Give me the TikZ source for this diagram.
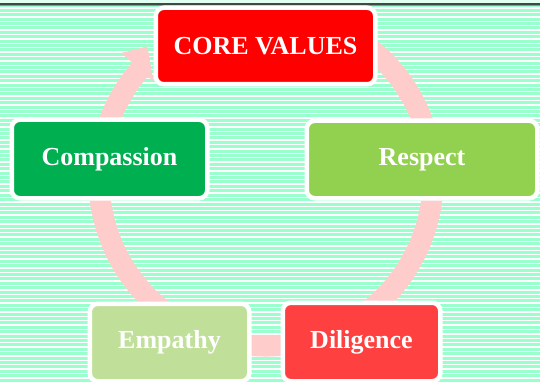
\documentclass[tikz,border=0pt]{standalone}
\usepackage{fontspec}
\setmainfont{Liberation Serif}
\usetikzlibrary{calc}
\definecolor{bggreen}{HTML}{99FFCC}
\definecolor{ringpink}{HTML}{FFCCCC}
\definecolor{cred}{HTML}{FF0000}
\definecolor{cgreen}{HTML}{00B050}
\definecolor{clime}{HTML}{92D050}
\definecolor{cpale}{HTML}{C0E09A}
\definecolor{ccoral}{HTML}{FF4040}
\definecolor{topdark}{HTML}{404846}
\definecolor{topmid}{HTML}{8A9A92}
\tikzset{
  valbox/.style={draw=white, line width=4.5pt, rounded corners=8pt, inner sep=0pt,
    text=white, font=\fontsize{26}{30}\selectfont\bfseries},
}
\begin{document}
\begin{tikzpicture}[x=1pt,y=-1pt]
\useasboundingbox (0,0) rectangle (540,382);
% background
\fill[bggreen] (0,0) rectangle (540,382);
\foreach \k in {0,...,87} {
  \draw[white, line width=1.4pt] (0,{8.2+4.4*\k}) -- (540,{8.2+4.4*\k});
}
\fill[white!70!bggreen] (0,0) rectangle (540,3);
\fill[topdark] (0,3) rectangle (540,5);
\fill[topmid] (0,5) rectangle (540,6.2);
% ring arrow
\coordinate (c) at (266,179);
\draw[ringpink, line width=21pt] (c) ++(-60:167) arc[start angle=-60, end angle=221.5, radius=167];
\fill[ringpink] ($(c)+(221:149)$) -- ($(c)+(228.2:178)$) -- ($(c)+(221:192)$) -- cycle;
% boxes
\node[valbox, fill=cred, minimum width=219.5pt, minimum height=76.5pt] (core) at (265.5,46) {CORE VALUES};
\node[valbox, fill=cgreen, minimum width=195.5pt, minimum height=78.5pt] (comp) at (109.5,159) {Compassion};
\node[valbox, fill=clime, minimum width=230.5pt, minimum height=77.5pt] (resp) at (422,159.5) {Respect};
\node[valbox, fill=cpale, minimum width=159.5pt, minimum height=77.5pt] (emp) at (169.5,342.5) {Empathy};
\node[valbox, fill=ccoral, minimum width=157.5pt, minimum height=78.5pt] (dil) at (361.5,342) {Diligence};
\end{tikzpicture}
\end{document}
